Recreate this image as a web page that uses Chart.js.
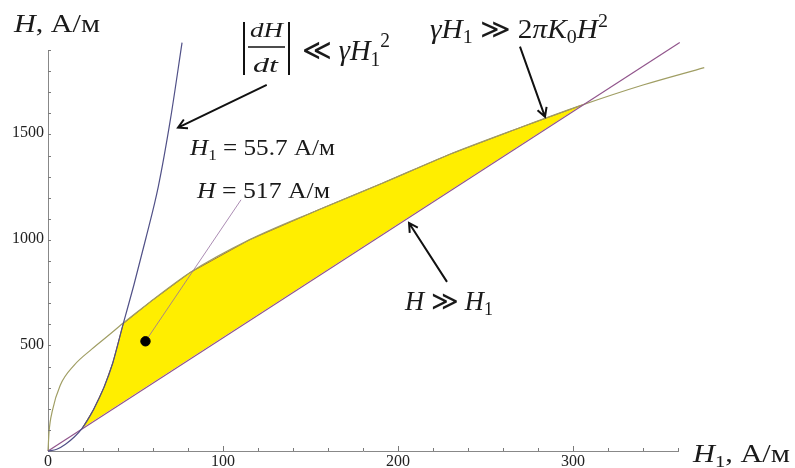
<!DOCTYPE html>
<html>
<head>
<meta charset="utf-8">
<script src="https://cdn.jsdelivr.net/npm/chart.js@4.4.0/dist/chart.umd.min.js"></script>
<style>
  body { margin: 0; background: #fff; }
</style>
</head>
<body>
<canvas id="chart" width="795" height="468"></canvas>
<script>
// steep curve |dH/dt| << gamma H1^2 : H1 and H in A/m
const steepH1 = [0, 5, 10, 15, 19.6, 26, 32, 37, 43, 49, 56, 63, 70, 76.6];
const steepH = [0, 8, 32, 66, 108, 195, 300, 415, 600, 780, 1005, 1245, 1565, 1925];

// root-like curve gamma H1 >> 2 pi K0 H^2
const rootH1 = [0, 0.6, 2.5, 7, 15, 25, 35, 43, 58, 81, 115, 154, 191, 230, 270, 305, 340, 375];
const rootH = [0, 90, 190, 310, 405, 480, 548, 603, 700, 840, 995, 1135, 1262, 1400, 1525, 1630, 1725, 1807];

// straight line H >> H1
const lineH1 = [0, 361];
const lineH = [0, 1925];

// marked point and its pointer end
const markH1 = [55.7, 110.3];
const markH = [517, 1184];

const xTicks = [0, 100, 200, 300];
const yTicks = [500, 1000, 1500];

// arrows: [fromH1, fromH, toH1, toH]
const arrows = [
  [125, 1726, 74.3, 1524],
  [269.7, 1906, 284, 1575],
  [228, 797, 206.3, 1075]
];

const pts = (xs, ys) => xs.map((x, i) => ({ x: x, y: ys[i] }));

// yellow region: steep curve up to the crossing, then root curve down to the line
const region = pts(steepH1, steepH).filter(p => p.x >= 19.6 && p.x <= 43)
  .concat(pts(rootH1, rootH).filter(p => p.x > 43 && p.x <= 305));

const serif = '"Liberation Serif", "DejaVu Serif", serif';

function drawMath(ctx, x, y, parts, size, width) {
  const fonts = parts.map(([t, k]) => {
    let fs = size, dy = 0, st = '';
    if (k === 'i') st = 'italic ';
    if (k === 'b') { fs = size * 0.68; dy = size * 0.2; }
    if (k === 'p') { fs = size * 0.68; dy = -size * 0.42; }
    return { t, f: st + fs + 'px ' + serif, dy };
  });
  let total = 0;
  fonts.forEach(o => { ctx.font = o.f; total += ctx.measureText(o.t).width; });
  ctx.save();
  ctx.translate(x, y);
  if (width) ctx.scale(width / total, 1);
  let cx = 0;
  fonts.forEach(o => {
    ctx.font = o.f;
    ctx.fillText(o.t, cx, o.dy);
    cx += ctx.measureText(o.t).width;
  });
  ctx.restore();
}

function arrow(ctx, x1, y1, x2, y2) {
  const a = Math.atan2(y2 - y1, x2 - x1);
  ctx.beginPath();
  ctx.moveTo(x1, y1);
  ctx.lineTo(x2, y2);
  ctx.moveTo(x2 - 10 * Math.cos(a - 0.5), y2 - 10 * Math.sin(a - 0.5));
  ctx.lineTo(x2, y2);
  ctx.lineTo(x2 - 10 * Math.cos(a + 0.5), y2 - 10 * Math.sin(a + 0.5));
  ctx.stroke();
}

const extras = {
  id: 'extras',
  afterDatasetsDraw(chart) {
    const ctx = chart.ctx;
    const xs = chart.scales.x, ys = chart.scales.y;

    // inward tick marks like the original
    ctx.save();
    ctx.strokeStyle = '#7a7a7a';
    ctx.lineWidth = 1;
    ctx.beginPath();
    xs.ticks.forEach(t => {
      if (t.value === 0) return;
      const px = Math.round(xs.getPixelForValue(t.value)) + 0.5;
      const len = t.value % 100 === 0 ? 5 : 3;
      ctx.moveTo(px, ys.bottom);
      ctx.lineTo(px, ys.bottom - len);
    });
    ys.ticks.forEach(t => {
      if (t.value === 0) return;
      const py = Math.round(ys.getPixelForValue(t.value)) + 0.5;
      const len = t.value % 500 === 0 ? 5 : 3;
      ctx.moveTo(xs.left, py);
      ctx.lineTo(xs.left + len, py);
    });
    ctx.stroke();

    // tick labels
    ctx.fillStyle = '#222';
    ctx.font = '16px ' + serif;
    ctx.textAlign = 'center';
    ctx.textBaseline = 'top';
    xTicks.forEach(v => ctx.fillText(String(v), xs.getPixelForValue(v), ys.bottom + 3));
    ctx.textAlign = 'right';
    ctx.textBaseline = 'middle';
    yTicks.forEach(v => ctx.fillText(String(v), xs.left - 4, ys.getPixelForValue(v)));
    ctx.textAlign = 'left';
    ctx.textBaseline = 'alphabetic';

    // arrows
    ctx.strokeStyle = '#111';
    ctx.lineWidth = 2;
    arrows.forEach(a => arrow(ctx,
      xs.getPixelForValue(a[0]), ys.getPixelForValue(a[1]),
      xs.getPixelForValue(a[2]), ys.getPixelForValue(a[3])));

    // texts
    ctx.fillStyle = '#1a1a1a';
    drawMath(ctx, 14, 32, [['H', 'i'], [', А/м', 'r']], 26, 86);
    drawMath(ctx, 693, 462, [['H', 'i'], ['1', 'b'], [', А/м', 'r']], 26, 97);
    drawMath(ctx, 190, 155, [['H', 'i'], ['1', 'b'], [' = 55.7 А/м', 'r']], 23, 145);
    drawMath(ctx, 197, 198, [['H', 'i'], [' = 517 А/м', 'r']], 23, 133);
    drawMath(ctx, 430, 38, [['γH', 'i'], ['1', 'b'], [' ≫ 2', 'r'], ['πK', 'i'], ['0', 'b'], ['H', 'i'], ['2', 'p']], 27, 178);
    drawMath(ctx, 405, 310, [['H', 'i'], [' ≫ ', 'r'], ['H', 'i'], ['1', 'b']], 27, 88);
    drawMath(ctx, 250, 37, [['dH', 'i']], 22, 33);
    drawMath(ctx, 253, 72, [['dt', 'i']], 22, 25);
    drawMath(ctx, 302, 60, [['≪ ', 'r'], ['γH', 'i'], ['1', 'b'], ['2', 'p']], 30, 88);
    ctx.lineWidth = 1.5;
    ctx.beginPath();
    ctx.moveTo(248, 47); ctx.lineTo(285, 47);
    ctx.stroke();
    ctx.lineWidth = 2;
    ctx.beginPath();
    ctx.moveTo(244, 22); ctx.lineTo(244, 75);
    ctx.moveTo(289, 22); ctx.lineTo(289, 75);
    ctx.stroke();
    ctx.restore();
  }
};

new Chart(document.getElementById('chart'), {
  type: 'scatter',
  data: {
    datasets: [
      {
        data: region,
        showLine: true,
        fill: 'shape',
        backgroundColor: 'rgb(255, 238, 0)',
        borderColor: 'rgb(160, 110, 40)',
        borderWidth: 1,
        pointRadius: 0,
        tension: 0,
        order: 5
      },
      {
        data: pts(lineH1, lineH),
        showLine: true,
        borderColor: 'rgb(145, 85, 140)',
        borderWidth: 1.2,
        pointRadius: 0,
        clip: false,
        order: 3
      },
      {
        data: pts(rootH1, rootH),
        showLine: true,
        borderColor: 'rgb(160, 158, 100)',
        borderWidth: 1.2,
        pointRadius: 0,
        cubicInterpolationMode: 'monotone',
        clip: false,
        order: 3
      },
      {
        data: pts(steepH1, steepH),
        showLine: true,
        borderColor: 'rgb(80, 80, 135)',
        borderWidth: 1.2,
        pointRadius: 0,
        cubicInterpolationMode: 'monotone',
        clip: false,
        order: 2
      },
      {
        data: pts(markH1, markH),
        showLine: true,
        borderColor: 'rgb(150, 110, 160)',
        borderWidth: 0.8,
        pointRadius: 0,
        order: 1
      },
      {
        data: [{ x: markH1[0], y: markH[0] }],
        pointRadius: 4.7,
        pointBackgroundColor: '#000',
        pointBorderColor: '#000',
        order: 0
      }
    ]
  },
  options: {
    responsive: false,
    animation: false,
    layout: { padding: { top: 50, right: 117, left: 0, bottom: 0 } },
    plugins: { legend: { display: false }, tooltip: { enabled: false } },
    scales: {
      x: {
        type: 'linear',
        min: 0,
        max: 360,
        grid: { display: false, drawTicks: false },
        border: { display: true, color: '#888', width: 1 },
        ticks: { stepSize: 20, autoSkip: false, includeBounds: false, display: false },
        afterFit: s => { s.height = 17; }
      },
      y: {
        type: 'linear',
        min: 0,
        max: 1890,
        grid: { display: false, drawTicks: false },
        border: { display: true, color: '#888', width: 1 },
        ticks: { stepSize: 100, autoSkip: false, includeBounds: false, display: false },
        afterFit: s => { s.width = 48; }
      }
    }
  },
  plugins: [extras]
});
</script>
</body>
</html>
